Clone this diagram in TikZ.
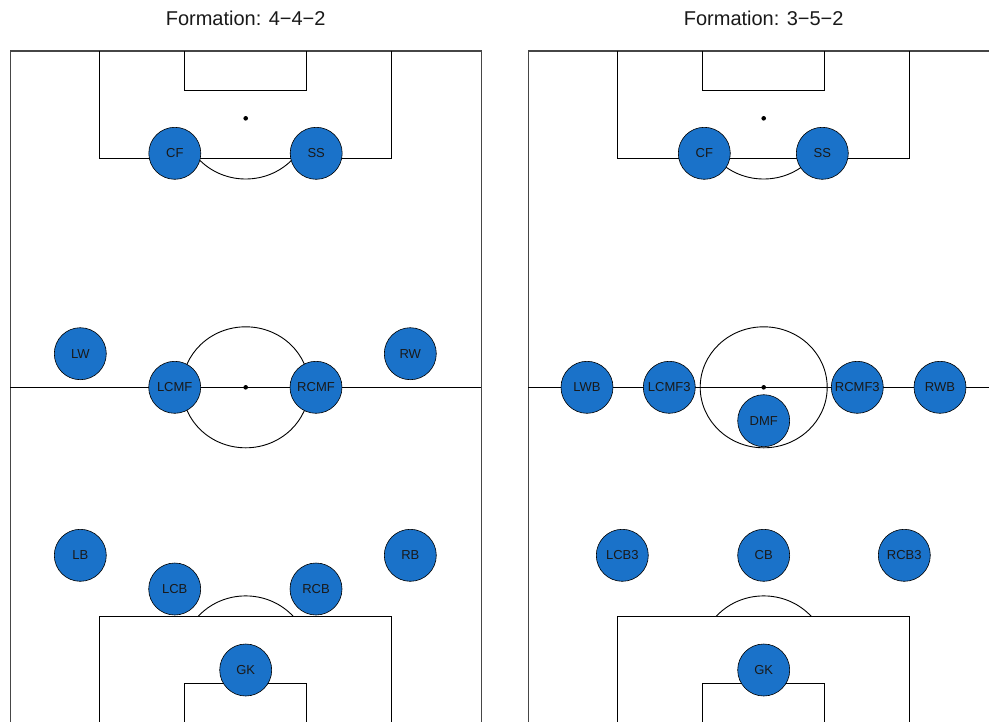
\documentclass[tikz,border=0pt]{standalone}
\usepackage{fontspec}
\setmainfont{Liberation Sans}
\definecolor{playerblue}{RGB}{26,114,201}
\definecolor{outerline}{RGB}{70,70,70}
\begin{document}
\begin{tikzpicture}[x=1pt,y=-1pt,
  pline/.style={draw=black,line width=0.9pt},
  outer/.style={draw=outerline,line width=1.1pt},
  player/.style={circle,draw=black,line width=0.6pt,fill=playerblue,minimum size=52pt,inner sep=0pt,font=\fontsize{13}{13}\selectfont,text=black!90},
  title/.style={font=\fontsize{20}{20}\selectfont,text=black!90}]
\useasboundingbox (0,0) rectangle (989,721);
\clip (0,0) rectangle (989,721);
\foreach \ox in {0,518} {
  \begin{scope}[xshift=\ox pt]
  % outer lines
  \draw[outer] (10.3,723.6) -- (10.3,51) -- (481.3,51) -- (481.3,723.6);
  \draw[pline] (10.3,387.3) -- (481.3,387.3);
  % top penalty area
  \draw[pline] (99.5,51) -- (99.5,158.7) -- (391.7,158.7) -- (391.7,51);
  \draw[pline] (184.3,51) -- (184.3,90.7) -- (306.7,90.7) -- (306.7,51);
  \fill (245.7,118.3) circle (2.3pt);
  \begin{scope}
    \clip (0,158.7) rectangle (500,300);
    \draw[pline] (245.7,118.3) ellipse [x radius=63.5pt, y radius=60.7pt];
  \end{scope}
  % centre
  \draw[pline] (245.7,387.3) ellipse [x radius=63.5pt, y radius=60.5pt];
  \fill (245.7,387.3) circle (2.3pt);
  % bottom penalty area
  \draw[pline] (99.5,723.6) -- (99.5,616.3) -- (391.7,616.3) -- (391.7,723.6);
  \draw[pline] (184.3,723.6) -- (184.3,683.3) -- (306.7,683.3) -- (306.7,723.6);
  \fill (245.7,656.6) circle (2.3pt);
  \begin{scope}
    \clip (0,500) rectangle (500,616.3);
    \draw[pline] (245.7,656.6) ellipse [x radius=63.5pt, y radius=60.7pt];
  \end{scope}
  \end{scope}
}
% titles
\node[title] (t1) at (245.7,18.5) {Formation: 4−4−2};
\node[title] (t2) at (763.7,18.5) {Formation: 3−5−2};
% 4-4-2
\node[player] (a_cf) at (174.8,153.3) {CF};
\node[player] (a_ss) at (316.2,153.3) {SS};
\node[player] (a_lw) at (80.3,353.7) {LW};
\node[player] (a_rw) at (410.3,353.7) {RW};
\node[player] (a_lcmf) at (174.7,387.3) {LCMF};
\node[player] (a_rcmf) at (316,387.3) {RCMF};
\node[player] (a_lb) at (80.3,555.3) {LB};
\node[player] (a_rb) at (410.3,555.3) {RB};
\node[player] (a_lcb) at (174.7,589) {LCB};
\node[player] (a_rcb) at (316,589) {RCB};
\node[player] (a_gk) at (245.7,670) {GK};
% 3-5-2
\node[player] (b_cf) at (704.3,153.3) {CF};
\node[player] (b_ss) at (822.3,153.3) {SS};
\node[player] (b_lwb) at (587,387.3) {LWB};
\node[player] (b_lcmf) at (669.3,387.3) {LCMF3};
\node[player] (b_dmf) at (763.7,420.7) {DMF};
\node[player] (b_rcmf) at (857.3,387.3) {RCMF3};
\node[player] (b_rwb) at (940,387.3) {RWB};
\node[player] (b_lcb) at (622.3,555.3) {LCB3};
\node[player] (b_cb) at (763.7,555.3) {CB};
\node[player] (b_rcb) at (904.3,555.3) {RCB3};
\node[player] (b_gk) at (763.7,670) {GK};
\end{tikzpicture}
\end{document}
